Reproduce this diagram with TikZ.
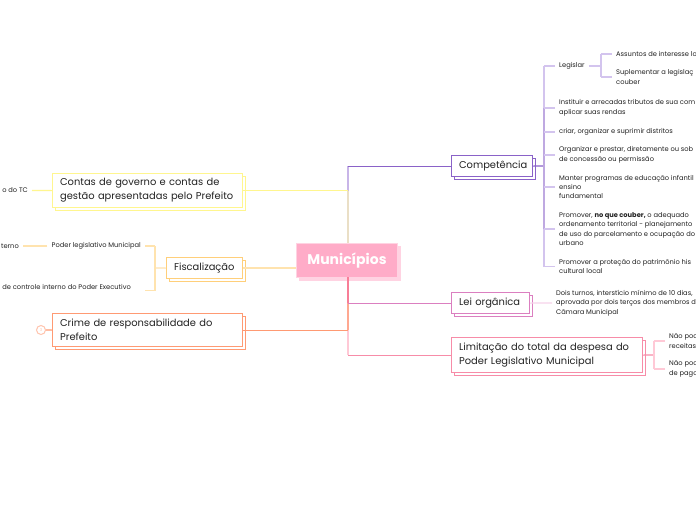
\documentclass[tikz,border=0pt]{standalone}
\usepackage{fontspec}
\setmainfont{Poppins}
\definecolor{rootpink}{HTML}{FFACC8}
\definecolor{rootedge}{HTML}{FFD3E2}
\definecolor{comppurple}{HTML}{8A62C8}
\definecolor{complight}{HTML}{D3C4EE}
\definecolor{leipink}{HTML}{DB7FC0}
\definecolor{leilight}{HTML}{F6D3EA}
\definecolor{limrose}{HTML}{F78CA8}
\definecolor{limlight}{HTML}{FFC9D6}
\definecolor{contyellow}{HTML}{FFF68F}
\definecolor{fiscgold}{HTML}{FFCF7A}
\definecolor{fisclight}{HTML}{FFE3AE}
\definecolor{crimecoral}{HTML}{FF9A73}
\definecolor{crimelight}{HTML}{FFC4AE}
\definecolor{textdark}{HTML}{222222}
\usetikzlibrary{shadows}
\tikzset{
  topicbox/.style={draw=#1,line width=1.2pt,fill=white,text=textdark,font=\fontsize{9.9}{14}\selectfont,
    align=left,anchor=north west,inner xsep=7.5pt,inner ysep=0pt,
    copy shadow={shadow xshift=2.5pt,shadow yshift=-2.5pt,draw=#1,fill=white,line width=1.2pt}},
  leaf/.style={font=\fontsize{6.7}{9.4}\selectfont,text=textdark,align=left,inner xsep=4pt,inner ysep=0pt},
  branch/.style={draw=#1,line width=1.2pt},
}
\begin{document}
\begin{tikzpicture}[x=1pt,y=-1pt]
  \useasboundingbox (0,0) rectangle (696,520);
  \clip (0,0) rectangle (696,520);
  \fill[white] (0,0) rectangle (696,520);
  % Central topic
  \node[draw=rootedge,line width=1pt,fill=rootpink,text=white,font=\fontsize{14}{18}\selectfont\bfseries,
    anchor=north west,minimum width=101pt,minimum height=34pt,inner sep=0pt,
    copy shadow={shadow xshift=2.5pt,shadow yshift=-2.5pt,draw=rootedge,fill=rootedge}] (root) at (296,243) {Municípios};
  \coordinate (trunk) at (348,243);
  \coordinate (trunkb) at (348,277);

  % Main topics
  \node[topicbox=comppurple,text width=66pt,minimum height=21pt] (comp) at (451,155) {Competência};
  \node[topicbox=leipink,text width=63pt,minimum height=21pt] (lei) at (451,292) {Lei orgânica};
  \node[topicbox=limrose,text width=176pt,minimum height=35pt] (lim) at (451,337) {Limitação do total da despesa do\\Poder Legislativo Municipal};
  \node[topicbox=contyellow,text width=175pt,minimum height=34pt] (cont) at (52,173) {Contas de governo e contas de\\gestão apresentadas pelo Prefeito};
  \node[topicbox=fiscgold,text width=61pt,minimum height=21pt] (fisc) at (166,257) {Fiscalização};
  \node[topicbox=crimecoral,text width=175pt,minimum height=33pt] (crime) at (52,313) {Crime de responsabilidade do\\Prefeito};

  % Trunk
  \draw[branch=complight!85!comppurple] (trunk |- comp.east) -- (trunk |- cont.east);
  \draw[branch=contyellow!70!comppurple!60] (trunk |- cont.east) -- (trunk);
  \draw[branch=limrose!90!red] (trunkb) -- (trunk |- lei.west);
  \draw[branch=crimecoral!70!limlight] (trunk |- lei.west) -- (trunk |- crime.east);
  \draw[branch=limlight] (trunk |- crime.east) -- (trunk |- lim.west);
  \draw[branch=comppurple] (trunk |- comp.west) -- (comp.west);
  \draw[branch=leipink] (trunk |- lei.west) -- (lei.west);
  \draw[branch=limrose] (trunk |- lim.west) -- (lim.west);
  \draw[branch=contyellow] (cont.east) -- (trunk |- cont.east);
  \draw[branch=crimecoral] (crime.east) -- (trunk |- crime.east);
  \draw[branch=fisclight,line width=1.6pt] (fisc.east) -- (root.west |- fisc.east);

  % Competencia leaves
  \coordinate (compbus) at (544,166);
  \draw[branch=comppurple] (comp.east) -- (compbus);
  \node[leaf,anchor=west] (legislar) at (555,66) {Legislar};
  \node[leaf,anchor=west] (instituir) at (555,108) {Instituir e arrecadas tributos de sua com\\aplicar suas rendas};
  \node[leaf,anchor=west] (criar) at (555,132) {criar, organizar e suprimir distritos};
  \node[leaf,anchor=west] (organizar) at (555,155) {Organizar e prestar, diretamente ou sob\\de concessão ou permissão};
  \node[leaf,anchor=west] (manter) at (555,187) {Manter programas de educação infantil\\ensino\\fundamental};
  \node[leaf,anchor=west] (promover) at (555,229) {Promover, \textbf{no que couber,} o adequado\\ordenamento territorial - planejamento\\de uso do parcelamento e ocupação do\\urbano};
  \node[leaf,anchor=west] (protecao) at (555,266.5) {Promover a proteção do patrimônio his\\cultural local};
  \draw[branch=complight] (compbus |- legislar.west) -- (compbus |- protecao.west);
  \draw[branch=comppurple!55] (compbus |- instituir.west) -- (compbus |- promover.west);
  \foreach \leafname in {legislar,instituir,criar,organizar,manter,promover,protecao}
    \draw[branch=complight] (compbus |- \leafname.west) -- (\leafname.west);

  % Legislar leaves
  \coordinate (legbus) at (601,66);
  \node[leaf,anchor=west] (assuntos) at (612,54) {Assuntos de interesse lo};
  \node[leaf,anchor=west] (suplementar) at (612,77) {Suplementar a legislaç\\couber};
  \draw[branch=complight] (legislar.east) -- (legbus);
  \draw[branch=complight] (legbus |- assuntos.west) -- (legbus |- suplementar.west);
  \draw[branch=complight] (legbus |- assuntos.west) -- (assuntos.west);
  \draw[branch=complight] (legbus |- suplementar.west) -- (suplementar.west);

  % Lei organica leaf
  \node[leaf,anchor=west] (turnos) at (552,303) {Dois turnos, interstício mínimo de 10 dias,\\aprovada por dois terços dos membros d\\Câmara Municipal};
  \draw[branch=leilight] (lei.east) -- (turnos.west);

  % Limitacao leaves
  \coordinate (limbus) at (654,355);
  \node[leaf,anchor=west] (naoa) at (665,341) {Não pod\\receitas};
  \node[leaf,anchor=west] (naob) at (665,369) {Não pod\\de pago};
  \draw[branch=limrose] (lim.east) -- (limbus);
  \draw[branch=limlight] (limbus |- naoa.west) -- (limbus |- naob.west);
  \draw[branch=limlight] (limbus |- naoa.west) -- (naoa.west);
  \draw[branch=limlight] (limbus |- naob.west) -- (naob.west);

  % Left side leaves
  \node[leaf,anchor=east] (tc) at (32,190.5) {o do TC};
  \draw[branch=contyellow] (cont.west) -- (tc.east);
  \coordinate (fiscbus) at (155,268);
  \coordinate (internoend) at (145,290.5);
  \node[leaf,anchor=east] (poder) at (145,246) {Poder legislativo Municipal};
  \node[leaf,anchor=east] (interno) at (135,287) {de controle interno do Poder Executivo};
  \node[leaf,anchor=east] (externo) at (23,246) {terno};
  \draw[branch=fisclight] (fisc.west) -- (fiscbus);
  \draw[branch=fisclight] (fiscbus |- poder.east) -- (fiscbus |- internoend);
  \draw[branch=fisclight] (fiscbus |- poder.east) -- (poder.east);
  \draw[branch=fisclight] (fiscbus |- internoend) -- (internoend);
  \draw[branch=fisclight] (poder.west) -- (externo.east);

  % Collapsed marker
  \node[circle,draw=crimelight,line width=1pt,minimum size=9pt,inner sep=0pt,fill=white,
    text=crimelight,font=\fontsize{4}{4}\selectfont] (crimemark) at (41,330) {3};
  \draw[branch=crimecoral] (crime.west) -- (crimemark.east);
\end{tikzpicture}
\end{document}
